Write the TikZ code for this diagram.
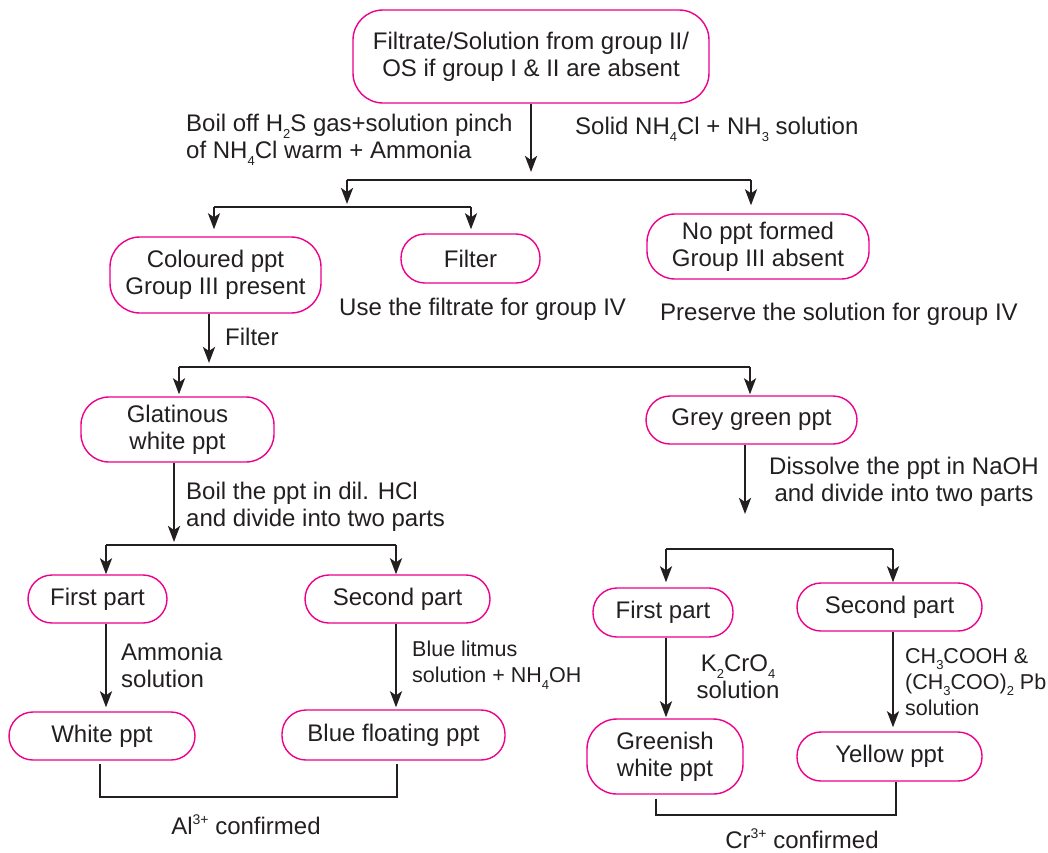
\documentclass[tikz,border=0pt]{standalone}
\usepackage{fontspec}
\setmainfont{Liberation Sans}
\usetikzlibrary{arrows.meta}
\definecolor{ink}{RGB}{35,31,32}
\definecolor{rim}{RGB}{236,0,140}
\newcommand\dn[1]{\raisebox{-0.3em}{\fontsize{13}{13}\selectfont #1}}
\newcommand\up[1]{\raisebox{0.42em}{\fontsize{14}{14}\selectfont #1}}
\begin{document}
\begin{tikzpicture}[x=1pt,y=-1pt,
  every node/.style={text=ink, font=\fontsize{24}{27}\selectfont},
  pill/.style={draw=rim, line width=1.4pt, rounded corners=24pt, align=center, inner sep=0pt},
  flow/.style={draw=ink, line width=2.5pt, -{Stealth[length=16pt,width=12pt,inset=4pt]}},
  link/.style={draw=ink, line width=2.5pt},
  lbl/.style={inner sep=0pt, align=left, anchor=west},
  small/.style={font=\fontsize{21.5}{26}\selectfont},
]
\useasboundingbox (0,0) rectangle (1048,852);

% boxes
\node[pill, rounded corners=30pt, minimum width=356pt, minimum height=93pt] (top) at (531,56.5) {Filtrate/Solution from group II/\\OS if group I \& II are absent};
\node[pill, rounded corners=30pt, minimum width=211pt, minimum height=76pt] (col) at (215.5,275) {Coloured ppt\\Group III present};
\node[pill, minimum width=139pt, minimum height=49pt] (filt) at (470.5,258.5) {Filter};
\node[pill, rounded corners=28pt, minimum width=222pt, minimum height=65pt] (noppt) at (758,246.5) {No ppt formed\\Group III absent};
\node[pill, rounded corners=28pt, minimum width=193pt, minimum height=65pt] (glat) at (177.5,429.5) {Glatinous\\white ppt};
\node[pill, minimum width=211pt, minimum height=48pt] (grey) at (751.5,420) {Grey green ppt};
\node[pill, minimum width=139pt, minimum height=48pt] (firstL) at (97.5,599) {First part};
\node[pill, minimum width=185pt, minimum height=48pt] (secondL) at (397.5,599) {Second part};
\node[pill, minimum width=186pt, minimum height=48pt] (white) at (102,736) {White ppt};
\node[pill, minimum width=223pt, minimum height=50pt] (blue) at (393.5,735) {Blue floating ppt};
\node[pill, minimum width=140pt, minimum height=49pt] (firstR) at (663,612.5) {First part};
\node[pill, minimum width=185pt, minimum height=48pt] (secondR) at (889.5,607) {Second part};
\node[pill, rounded corners=30pt, minimum width=156pt, minimum height=75pt] (green) at (665,756.5) {Greenish\\white ppt};
\node[pill, minimum width=185pt, minimum height=49pt] (yellow) at (889.5,756.5) {Yellow ppt};

% labels
\node[lbl] (boil) at (186,140) {Boil off H\dn{2}S gas+solution pinch\\of NH\dn{4}Cl warm + Ammonia};
\node[lbl] (solid) at (575,129) {Solid NH\dn{4}Cl + NH\dn{3} solution};
\node[lbl] (usef) at (339,309) {Use the filtrate for group IV};
\node[lbl] (pres) at (660,314) {Preserve the solution for group IV};
\node[lbl] (filtl) at (225,337) {Filter};
\node[lbl] (boilppt) at (186,507) {Boil the ppt in dil. HCl\\and divide into two parts};
\node[lbl, align=center] (diss) at (769,482) {Dissolve the ppt in NaOH\\and divide into two parts};
\node[lbl] (amm) at (121,665) {Ammonia\\solution};
\node[lbl, small] (litmus) at (412,665) {Blue litmus\\solution + NH\dn{4}OH};
\node[inner sep=0pt, align=center] (k2) at (738,677) {K\dn{2}CrO\dn{4}\\solution};
\node[lbl, small] (ch3) at (905,682) {CH\dn{3}COOH \&\\(CH\dn{3}COO)\dn{2} Pb\\solution};
\node[inner sep=0pt] (al) at (246,825) {Al\up{3+} confirmed};
\node[inner sep=0pt] (cr) at (802,839) {Cr\up{3+} confirmed};

% branch coordinates
\coordinate (b1L) at (347,180); \coordinate (b1R) at (751,180);
\coordinate (b2L) at (214,207); \coordinate (b2R) at (471,207);
\coordinate (b3L) at (179,367); \coordinate (b3R) at (750,367);
\coordinate (b4L) at (106,545); \coordinate (b4R) at (396,545);
\coordinate (b5L) at (666,549); \coordinate (b5R) at (893,549);
\coordinate (gtip) at (745,514);
\coordinate (cx) at (209,0);
\coordinate (gx) at (174,0);
\coordinate (alL) at (100,797); \coordinate (alR) at (397,797);
\coordinate (crL) at (656,815); \coordinate (crR) at (896,815);

% connectors
\draw[flow, shorten >=8pt] (top.south) -- (top.south |- b1L);
\draw[link] (b1L) -- (b1R);
\draw[flow, shorten >=3pt] (b1L) -- (b1L |- b2L);
\draw[flow, shorten >=8pt] (b1R) -- (b1R |- noppt.north);
\draw[link] (b2L) -- (b2R);
\draw[flow, shorten >=7pt] (b2L) -- (b2L |- col.north);
\draw[flow, shorten >=4pt] (b2R) -- (b2R |- filt.north);
\draw[flow, shorten >=4pt] (col.south -| cx) -- (b3L -| cx);
\draw[link] (b3L) -- (b3R);
\draw[flow, shorten >=2pt] (b3L) -- (b3L |- glat.north);
\draw[flow, shorten >=1pt] (b3R) -- (b3R |- grey.north);
\draw[flow, shorten >=3pt] (glat.south -| gx) -- (b4L -| gx);
\draw[link] (b4L) -- (b4R);
\draw[flow] (b4L) -- (b4L |- firstL.north);
\draw[flow] (b4R) -- (b4R |- secondL.north);
\draw[flow] (grey.south -| gtip) -- (gtip);
\draw[link] (b5L) -- (b5R);
\draw[flow, shorten >=5pt] (b5L) -- (b5L |- firstR.north);
\draw[flow] (b5R) -- (b5R |- secondR.north);
\draw[flow, shorten >=4pt] (firstL.south -| b4L) -- (white.north -| b4L);
\draw[flow, shorten >=2pt] (secondL.south -| b4R) -- (blue.north -| b4R);
\draw[flow, shorten >=1pt] (firstR.south -| b5L) -- (green.north -| b5L);
\draw[flow, shorten >=4pt] (secondR.south -| b5R) -- (yellow.north -| b5R);
\draw[link, shorten <=3pt, shorten >=3pt] (white.south -| alL) -- (alL) -- (alR) -- (blue.south -| alR);
\draw[link, shorten <=4pt] (green.south -| crL) -- (crL) -- (crR) -- (yellow.south -| crR);
\end{tikzpicture}
\end{document}
